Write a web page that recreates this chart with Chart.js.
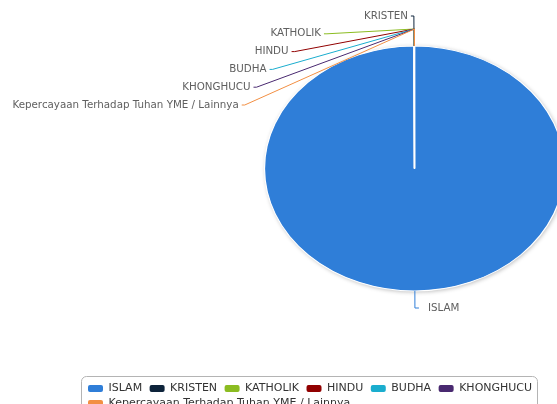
<!DOCTYPE html>
<html><head><meta charset="utf-8">
<script src="https://cdn.jsdelivr.net/npm/chart.js@4/dist/chart.umd.min.js"></script>
<style>
html,body{margin:0;padding:0;background:#fff;overflow:hidden;width:557px;height:404px;}
#wrap{position:relative;width:557px;height:404px;overflow:hidden;background:#fff;}
#c{position:absolute;left:0;top:-42px;}
</style></head><body>
<div id="wrap"><canvas id="c" width="745" height="461"></canvas></div>
<script>
// ---- data ----
const categories = ['ISLAM', 'KRISTEN', 'KATHOLIK', 'HINDU', 'BUDHA', 'KHONGHUCU', 'Kepercayaan Terhadap Tuhan YME / Lainnya'];
const values = [245000, 120, 40, 8, 15, 2, 3];
const colors = ['#2f7ed8', '#0d233a', '#8bbc21', '#910000', '#1aadce', '#492970', '#f28f43'];

// ---- style constants ----
const STRETCH = 1.2245;     // ellipse: horizontal / vertical radius
const LABEL_DIST = 30;      // label distance outside the pie
const ELBOW = 17;           // connector elbow distance
const ROW = 17.8;           // min vertical spacing between stacked labels
const BOTTOM_GAP = 17;      // bottom labels clamp
const LABEL_FONT = '10.3px "DejaVu Sans"';

const stretchPlugin = {
  id: 'stretch',
  beforeDatasetsDraw(chart) {
    const a = chart.getDatasetMeta(0).data[0];
    const ctx = chart.ctx;
    ctx.save();
    ctx.translate(a.x, a.y); ctx.scale(STRETCH, 1); ctx.translate(-a.x, -a.y);
    ctx.save();
    ctx.shadowColor = 'rgba(0,0,0,0.28)';
    ctx.shadowBlur = 4; ctx.shadowOffsetX = 1; ctx.shadowOffsetY = 1;
    ctx.beginPath(); ctx.arc(a.x, a.y, a.outerRadius, 0, Math.PI * 2);
    ctx.fillStyle = '#ffffff'; ctx.fill();
    ctx.restore();
  },
  afterDatasetsDraw(chart) { chart.ctx.restore(); }
};

const labelPlugin = {
  id: 'outLabels',
  afterDraw(chart) {
    const ctx = chart.ctx;
    const arcs = chart.getDatasetMeta(0).data;
    const cx = arcs[0].x, cy = arcs[0].y, R = arcs[0].outerRadius;
    const Rl = R + LABEL_DIST;
    const items = arcs.map((arc, i) => {
      const a = (arc.startAngle + arc.endAngle) / 2;
      return { i, a, left: Math.cos(a) < 0, ny: cy + Rl * Math.sin(a) };
    });
    let prev = -Infinity;
    items.filter(it => it.left).forEach(it => { it.y = Math.max(it.ny, prev + ROW); prev = it.y; });
    items.filter(it => !it.left).forEach(it => { it.y = it.ny; });
    ctx.save();
    ctx.font = LABEL_FONT;
    ctx.textBaseline = 'middle';
    ctx.lineWidth = 1;
    items.forEach(it => {
      const dy = it.y - cy;
      const dx = STRETCH * Math.sqrt(Math.max(Rl * Rl - dy * dy, 0));
      const ax = it.left ? cx - dx : cx + dx;
      const ay = Math.min(it.y, cy + R + BOTTOM_GAP);
      const ex = cx + STRETCH * R * Math.cos(it.a), ey = cy + R * Math.sin(it.a);
      const bx = cx + STRETCH * (R + ELBOW) * Math.cos(it.a), by = cy + (R + ELBOW) * Math.sin(it.a);
      ctx.strokeStyle = colors[it.i];
      ctx.beginPath();
      ctx.moveTo(it.left ? ax - 3 : ax + 4, ay);
      ctx.lineTo(ax, ay);
      ctx.lineTo(bx, by);
      ctx.lineTo(ex, ey);
      ctx.stroke();
      ctx.fillStyle = '#606060';
      ctx.textAlign = it.left ? 'right' : 'left';
      ctx.fillText(categories[it.i], it.left ? ax - 6 : ax + 13, ay);
    });
    ctx.restore();
  }
};

const legendBorderPlugin = {
  id: 'legendBorder',
  afterDraw(chart) {
    const lg = chart.legend, hb = lg.legendHitBoxes;
    if (!hb || !hb.length) return;
    const ctx = chart.ctx;
    const l = Math.round(Math.min(...hb.map(h => h.left)) - 7) + 0.5;
    const r = Math.round(Math.max(...hb.map(h => h.left + h.width)) + 1) + 0.5;
    const t = Math.round(lg.top - 3) + 0.5;
    const b = lg.bottom + 20;
    const rad = 5;
    ctx.save();
    ctx.strokeStyle = '#b4b4b4'; ctx.lineWidth = 1;
    ctx.beginPath();
    ctx.moveTo(l + rad, t); ctx.lineTo(r - rad, t); ctx.arcTo(r, t, r, t + rad, rad);
    ctx.lineTo(r, b - rad); ctx.arcTo(r, b, r - rad, b, rad);
    ctx.lineTo(l + rad, b); ctx.arcTo(l, b, l, b - rad, rad);
    ctx.lineTo(l, t + rad); ctx.arcTo(l, t, l + rad, t, rad);
    ctx.stroke();
    ctx.restore();
  }
};

new Chart(document.getElementById('c'), {
  type: 'pie',
  data: {
    labels: categories,
    datasets: [{
      data: values,
      backgroundColor: colors,
      borderColor: '#ffffff',
      borderWidth: 1,
      radius: 122.5
    }]
  },
  options: {
    responsive: false,
    animation: false,
    layout: { padding: { left: 84, right: 0, top: 0, bottom: 0 } },
    plugins: {
      tooltip: { enabled: false },
      legend: {
        position: 'bottom',
        align: 'start',
        labels: {
          boxWidth: 15,
          boxHeight: 7,
          padding: 4,
          color: '#333333',
          font: { family: 'DejaVu Sans', size: 11 },
          useBorderRadius: true,
          borderRadius: 2,
          generateLabels(chart) {
            const base = Chart.overrides.doughnut.plugins.legend.labels.generateLabels(chart);
            return base.map(it => Object.assign({}, it, {
              text: it.text + ' ', lineWidth: 0, strokeStyle: 'rgba(0,0,0,0)', borderRadius: 2
            }));
          }
        }
      }
    }
  },
  plugins: [stretchPlugin, labelPlugin, legendBorderPlugin]
});
</script>
</body></html>
